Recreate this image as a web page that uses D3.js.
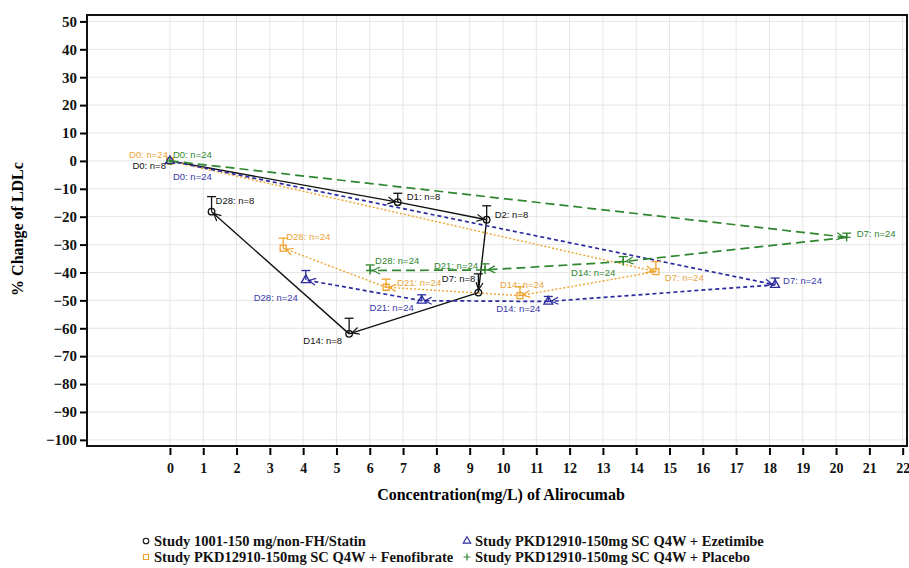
<!DOCTYPE html>
<html>
<head>
<meta charset="utf-8">
<script src="https://cdn.jsdelivr.net/npm/d3@7"></script>
<style>
  body { margin: 0; background: #fff; }
  svg { display: block; }
  .serif { font-family: "Liberation Serif", "Times New Roman", Times, "DejaVu Serif", serif; font-weight: bold; }
  .sans { font-family: "Liberation Sans", Arial, "DejaVu Sans", sans-serif; }
</style>
</head>
<body>
<div id="chart"></div>
<script>
// values
// Study 1001-150 mg/non-FH/Statin
var statinDay = ["D0", "D1", "D2", "D7", "D14", "D28"]
var statinConc = [0, 6.84, 9.51, 9.26, 5.38, 1.25]
var statinChange = [0, -14.8, -21.1, -47.2, -62.0, -18.2]
var statinUpper = [0, -11.6, -16.1, -40.5, -56.4, -12.8]
var statinN = 8

// Study PKD12910 + Fenofibrate
var fenoDay = ["D0", "D7", "D14", "D21", "D28"]
var fenoConc = [0, 14.59, 10.51, 6.49, 3.40]
var fenoChange = [0, -39.7, -48.3, -45.3, -31.3]
var fenoUpper = [0, -36.1, -45.1, -42.4, -27.7]
var fenoN = 24

// Study PKD12910 + Ezetimibe
var ezeDay = ["D0", "D7", "D14", "D21", "D28"]
var ezeConc = [0, 18.17, 11.36, 7.56, 4.08]
var ezeChange = [0, -44.4, -50.4, -50.1, -42.7]
var ezeUpper = [0, -42.0, -48.6, -48.0, -39.3]
var ezeN = 24

// Study PKD12910 + Placebo
var placDay = ["D0", "D7", "D14", "D21", "D28"]
var placConc = [0, 20.32, 13.61, 9.46, 6.01]
var placChange = [0, -27.4, -36.1, -39.1, -39.3]
var placUpper = [0, -25.9, -34.3, -36.9, -37.3]
var placN = 24

var xTicks = d3.range(0, 23)
var yTicks = d3.range(-100, 51, 10)

var legendNames = ["Study 1001-150 mg/non-FH/Statin",
                   "Study PKD12910-150mg SC Q4W + Fenofibrate",
                   "Study PKD12910-150mg SC Q4W + Ezetimibe",
                   "Study PKD12910-150mg SC Q4W + Placebo"]

// label placement next to each point: [dx, dy, anchor]
var labelPlace = {
    statin: [[-4, 8, "end"], [9, -2, "start"], [8, -2, "start"], [-3, -11, "end"], [-7, 10, "end"], [4, -8, "start"]],
    feno:   [[-2, -3, "end"], [9, 9, "start"], [-20, -8, "start"], [11, -1, "start"], [3, -8, "start"]],
    eze:    [[3, 19, "start"], [8, -1, "start"], [-8, 11, "end"], [-8, 10, "end"], [-8, 21, "end"]],
    plac:   [[3, -3, "start"], [10, 0, "start"], [-8, 14, "end"], [-7, -1, "end"], [5, -7, "start"]]
}

function build(key, days, conc, change, upper, n) {
    return days.map(function(d, i) {
        return { day: d, x: conc[i], y: change[i], up: upper[i], n: n, lab: labelPlace[key][i] }
    })
}

var series = [
    { key: "statin", name: legendNames[0], color: "#111111", labColor: "#111111", dash: null, width: 1.4, shape: "circle",
      pts: build("statin", statinDay, statinConc, statinChange, statinUpper, statinN) },
    { key: "feno", name: legendNames[1], color: "#f0a32c", labColor: "#e9a43c", dash: "2,2", width: 1.4, shape: "square",
      pts: build("feno", fenoDay, fenoConc, fenoChange, fenoUpper, fenoN) },
    { key: "eze", name: legendNames[2], color: "#2b2b9e", labColor: "#3838a8", dash: "4,3", width: 1.7, shape: "triangle",
      pts: build("eze", ezeDay, ezeConc, ezeChange, ezeUpper, ezeN) },
    { key: "plac", name: legendNames[3], color: "#2e862e", labColor: "#2e862e", dash: "9,5", width: 1.7, shape: "plus",
      pts: build("plac", placDay, placConc, placChange, placUpper, placN) }
]

var W = 909, H = 568
var frame = { left: 87, top: 15, right: 907, bottom: 446 }

var svg = d3.select("#chart").append("svg")
            .attr("width", W)
            .attr("height", H)

var x = d3.scaleLinear().domain([-2.49, 22.13]).range([frame.left, frame.right])
var y = d3.scaleLinear().domain([-102.2, 52.3]).range([frame.bottom, frame.top])

// grid
var grid = svg.append("g")
grid.selectAll(".gx").data(xTicks).enter().append("line")
    .attr("x1", function(d) { return x(d) }).attr("x2", function(d) { return x(d) })
    .attr("y1", frame.top).attr("y2", frame.bottom)
    .attr("stroke", "#e6e6e6").attr("stroke-width", 1)
grid.selectAll(".gy").data(yTicks).enter().append("line")
    .attr("x1", frame.left).attr("x2", frame.right)
    .attr("y1", function(d) { return y(d) }).attr("y2", function(d) { return y(d) })
    .attr("stroke", "#e6e6e6").attr("stroke-width", 1)

// axes
var yAxis = svg.append("g")
    .attr("transform", "translate(" + frame.left + ",0)")
    .call(d3.axisLeft(y).tickValues(yTicks).tickSize(7).tickPadding(3))
yAxis.attr("font-family", null).attr("font-size", null)
yAxis.select(".domain").remove()
yAxis.selectAll("line").attr("stroke", "#000").attr("stroke-width", 2)
yAxis.selectAll("text").attr("class", "serif").style("font-size", "15px").attr("fill", "#111")

var xAxis = svg.append("g")
    .attr("transform", "translate(0," + (frame.bottom + 2) + ")")
    .call(d3.axisBottom(x).tickValues(xTicks).tickSize(7).tickPadding(8))
xAxis.attr("font-family", null).attr("font-size", null)
xAxis.select(".domain").remove()
xAxis.selectAll("line").attr("stroke", "#000").attr("stroke-width", 2)
xAxis.selectAll("text").attr("class", "serif").style("font-size", "14px").attr("fill", "#111")

// frame
svg.append("rect")
    .attr("x", frame.left).attr("y", frame.top)
    .attr("width", frame.right - frame.left).attr("height", frame.bottom - frame.top)
    .attr("fill", "none").attr("stroke", "#111").attr("stroke-width", 2)

// axis titles
svg.append("text")
    .attr("class", "serif")
    .attr("x", 501).attr("y", 500)
    .attr("text-anchor", "middle")
    .style("font-size", "16px")
    .text("Concentration(mg/L) of Alirocumab")

svg.append("text")
    .attr("class", "serif")
    .attr("transform", "translate(23,229) rotate(-90)")
    .attr("text-anchor", "middle")
    .style("font-size", "16px")
    .text("% Change of LDLc")

// arrow markers, one per series colour
var defs = svg.append("defs")
series.forEach(function(s) {
    defs.append("marker")
        .attr("id", "arr-" + s.key)
        .attr("viewBox", "-10 -6 14 12")
        .attr("markerWidth", 14).attr("markerHeight", 12)
        .attr("markerUnits", "userSpaceOnUse")
        .attr("refX", 3).attr("refY", 0)
        .attr("orient", "auto")
        .append("path")
        .attr("d", "M-7,-3.5L0,0L-7,3.5")
        .attr("fill", "none").attr("stroke", s.color).attr("stroke-width", 1.2)
})

var plot = svg.append("g")

// connecting segments with arrows
series.forEach(function(s) {
    var segs = d3.pairs(s.pts)
    plot.selectAll(".seg-" + s.key).data(segs).enter().append("line")
        .attr("x1", function(d) { return x(d[0].x) }).attr("y1", function(d) { return y(d[0].y) })
        .attr("x2", function(d) { return x(d[1].x) }).attr("y2", function(d) { return y(d[1].y) })
        .attr("stroke", s.color).attr("stroke-width", s.width)
        .attr("stroke-dasharray", s.dash)
        .attr("marker-end", "url(#arr-" + s.key + ")")
})

// error bars (upper only)
series.forEach(function(s) {
    var eb = plot.selectAll(".eb-" + s.key).data(s.pts.filter(function(d) { return d.up !== d.y })).enter().append("g")
    eb.append("line")
        .attr("x1", function(d) { return x(d.x) }).attr("x2", function(d) { return x(d.x) })
        .attr("y1", function(d) { return y(d.y) }).attr("y2", function(d) { return y(d.up) })
        .attr("stroke", s.color).attr("stroke-width", 1.3)
    eb.append("line")
        .attr("x1", function(d) { return x(d.x) - 4.5 }).attr("x2", function(d) { return x(d.x) + 4.5 })
        .attr("y1", function(d) { return y(d.up) }).attr("y2", function(d) { return y(d.up) })
        .attr("stroke", s.color).attr("stroke-width", 1.3)
})

// point symbols
var symbolFor = {
    circle: d3.symbol().type(d3.symbolCircle).size(34),
    square: d3.symbol().type(d3.symbolSquare).size(36),
    triangle: d3.symbol().type(d3.symbolTriangle).size(34)
}
function drawSymbol(sel, s) {
    if (s.shape === "plus") {
        sel.append("path")
            .attr("d", "M-4,0H4M0,-4V4")
            .attr("fill", "none").attr("stroke", s.color).attr("stroke-width", 1.4)
    } else {
        sel.append("path")
            .attr("d", symbolFor[s.shape]())
            .attr("fill", "none").attr("stroke", s.color).attr("stroke-width", 1.3)
    }
}
series.forEach(function(s) {
    plot.selectAll(".pt-" + s.key).data(s.pts).enter().append("g")
        .attr("transform", function(d) { return "translate(" + x(d.x) + "," + y(d.y) + ")" })
        .each(function() { drawSymbol(d3.select(this), s) })
})

// point labels
series.forEach(function(s) {
    plot.selectAll(".lab-" + s.key).data(s.pts).enter().append("text")
        .attr("class", "sans")
        .attr("x", function(d) { return x(d.x) + d.lab[0] })
        .attr("y", function(d) { return y(d.y) + d.lab[1] })
        .attr("text-anchor", function(d) { return d.lab[2] })
        .style("font-size", "9.5px")
        .attr("fill", s.labColor)
        .text(function(d) { return d.day + ": n=" + d.n })
})

// legend
var legendPos = [[146, 541], [146, 557], [467, 541], [467, 557]]
series.forEach(function(s, i) {
    var g = svg.append("g").attr("transform", "translate(" + legendPos[i][0] + "," + legendPos[i][1] + ")")
    var sym = g.append("g").attr("transform", "scale(0.85)")
    drawSymbol(sym, s)
    g.append("text")
        .attr("class", "serif")
        .attr("x", 8).attr("y", 5)
        .style("font-size", "14.5px")
        .attr("fill", "#111")
        .text(s.name)
})
</script>
</body>
</html>
